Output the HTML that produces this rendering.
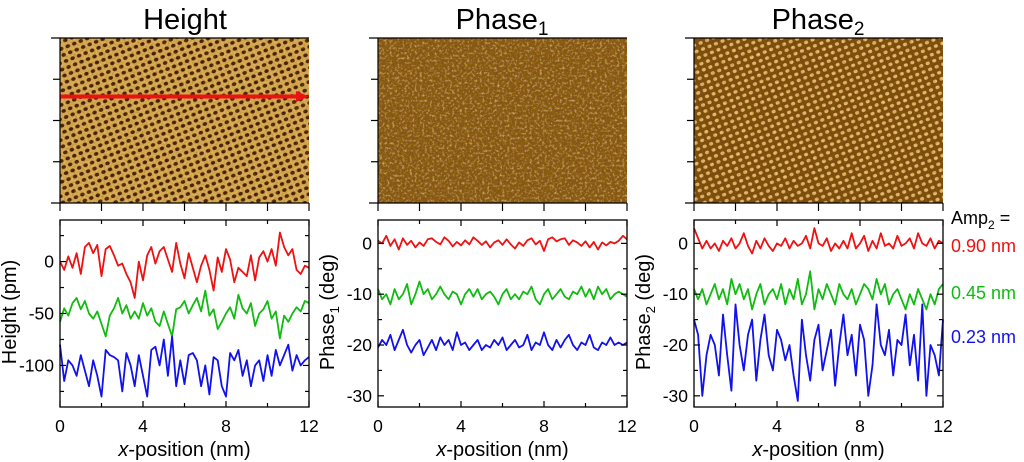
<!DOCTYPE html>
<html><head><meta charset="utf-8">
<style>
html,body{margin:0;padding:0;background:#fff;}
svg{display:block;font-family:"Liberation Sans",Arial,sans-serif;}
</style></head>
<body>
<svg id="fig" width="1024" height="462" viewBox="0 0 1024 462">
<defs>
 <filter id="noise" x="0" y="0" width="100%" height="100%">
  <feTurbulence type="fractalNoise" baseFrequency="0.5" numOctaves="2" seed="3"/>
  <feColorMatrix type="matrix" values="0 0 0 0 0.3  0 0 0 0 0.15  0 0 0 0 0.0  0 0 0 -1.8 1.2"/>
 </filter>
 <filter id="noise2" x="0" y="0" width="100%" height="100%">
  <feTurbulence type="fractalNoise" baseFrequency="0.4" numOctaves="2" seed="7"/>
  <feColorMatrix type="matrix" values="0 0 0 0 1  0 0 0 0 0.88  0 0 0 0 0.55  0 0 0 2.0 -1.0"/>
 </filter>
 <pattern id="patH" width="7" height="6.5" patternUnits="userSpaceOnUse" patternTransform="rotate(-22)">
  <rect width="7" height="6.5" fill="#e0b060"/>
  <ellipse cx="3.5" cy="3.25" rx="2.3" ry="1.9" fill="#3c1c02"/>
 </pattern>
 <pattern id="patP2" width="7" height="6.5" patternUnits="userSpaceOnUse" patternTransform="rotate(-22)">
  <rect width="7" height="6.5" fill="#7a4810"/>
  <ellipse cx="3.5" cy="3.25" rx="2.1" ry="1.7" fill="#e8c27a"/>
 </pattern>
</defs>

<g><text x="185" y="29" font-size="29" text-anchor="middle">Height</text></g>
<g><text x="502" y="29" font-size="29" text-anchor="middle">Phase<tspan font-size="19" dy="6">1</tspan></text></g>
<g><text x="818" y="29" font-size="29" text-anchor="middle">Phase<tspan font-size="19" dy="6">2</tspan></text></g>

<g>
 <rect x="60" y="38" width="249" height="165" fill="url(#patH)"/>
 <rect x="60" y="38" width="249" height="165" filter="url(#noise)" opacity="0.5"/>
</g>
<g>
 <rect x="378" y="38" width="249" height="165" fill="#84521a"/>
 <rect x="378" y="38" width="249" height="165" filter="url(#noise)" opacity="0.9"/>
 <rect x="378" y="38" width="249" height="165" filter="url(#noise2)" opacity="0.75"/>
</g>
<g>
 <rect x="694" y="38" width="249" height="165" fill="url(#patP2)"/>
 <rect x="694" y="38" width="249" height="165" filter="url(#noise)" opacity="0.5"/>
</g>
<g>
 <line x1="60" y1="96.5" x2="298" y2="96.5" stroke="#ee1111" stroke-width="4"/>
 <polygon points="296,91 309,96.5 296,102" fill="#ee1111"/>
</g>
<g id="imgticks"></g>

<g id="plots"></g>

<g>
 <text x="951" y="224" font-size="18" fill="#000">Amp<tspan font-size="12" dy="5">2</tspan><tspan dy="-5"> =</tspan></text>
 <text x="951" y="252" font-size="18" fill="#ee1111">0.90 nm</text>
 <text x="951" y="299" font-size="18" fill="#11bb11">0.45 nm</text>
 <text x="951" y="343" font-size="18" fill="#1111ee">0.23 nm</text>
</g>
</svg>
<script>
const xTicks = [0, 4, 8, 12];
const heightTicks = [0, -50, -100];
const phaseTicks = [0, -10, -20, -30];
const seriesColors = ["#ee1111", "#11bb11", "#1111ee"];

const heightRed = [0,-8,5,-6,8,-12,14,18,8,16,-14,12,15,6,-4,-2,-12,-20,-35,0,-18,6,14,-2,10,14,2,-10,18,-2,-16,8,-6,-20,-4,6,-8,-28,4,-10,12,2,-20,-6,-10,-14,6,-18,4,10,0,12,-4,28,14,6,12,-8,-12,-4,-6];
const heightGreen = [-58,-45,-52,-40,-35,-46,-38,-50,-55,-48,-60,-72,-52,-45,-35,-50,-42,-55,-48,-55,-40,-52,-45,-58,-62,-48,-60,-72,-46,-44,-38,-50,-42,-35,-48,-28,-52,-46,-65,-58,-50,-44,-55,-32,-45,-50,-40,-62,-50,-46,-38,-55,-48,-74,-52,-58,-50,-44,-48,-38,-40];
const heightBlue = [-80,-115,-95,-100,-110,-90,-105,-120,-95,-110,-130,-85,-90,-92,-95,-125,-88,-100,-120,-90,-110,-130,-85,-82,-100,-75,-110,-72,-120,-95,-118,-90,-88,-95,-120,-100,-128,-92,-95,-120,-130,-88,-95,-85,-110,-95,-120,-100,-95,-115,-90,-110,-85,-100,-90,-80,-105,-90,-100,-95,-92];

const phase1Red = [0.5,0,1.5,-0.5,0.8,-1.2,1,-0.3,0.5,-0.8,0.2,-0.5,0.8,1,0.3,-0.2,1.2,0.5,-0.6,0.3,-0.4,0.6,-0.2,1.2,0.5,-0.3,0.4,-0.8,0.2,0.6,-0.3,0.8,-0.2,-1,0.2,-0.5,0.6,1,-0.2,0.5,-1.5,0.8,1.2,0.4,0.8,1,-0.3,0.6,0.2,-0.5,0.4,-0.8,0.3,-1.2,0.2,-0.4,0.3,0,0.5,1.5,0.8];
const phase1Green = [-9,-11,-10,-12,-9,-11,-10,-8,-12,-10,-7.5,-10,-9,-11,-10,-8.5,-10,-11,-9.5,-10,-12,-10,-9,-10.5,-9,-11,-10,-9.5,-10.5,-12,-10,-9,-11,-10,-11,-9.5,-10,-8.5,-11,-12,-10,-9,-11,-10,-9,-10.5,-11,-9.5,-10,-8.5,-10.5,-9,-11,-8.5,-10,-9,-11,-10,-9.5,-10,-10.5];
const phase1Blue = [-20.5,-19,-20,-18,-21,-19,-17,-20,-21.5,-20,-19,-22,-20.5,-19,-21,-18.5,-20,-19,-21,-17.5,-20,-19.5,-21,-20,-19,-21,-20,-20.5,-19,-20,-18.5,-21,-20,-19,-20.5,-20,-18,-21,-19.5,-20,-17.5,-20,-21,-19,-20.5,-19,-18,-20,-21,-19.5,-20,-18,-20.5,-21,-19.5,-20,-18.5,-20,-19.5,-20,-19.5];

const phase2Red = [3,1,-1,0.5,-1,0,-1.5,0.5,-0.5,1,-1,0,2,-0.5,-2,0.5,-1,1,-0.5,-1.5,0,-0.5,1,-1,0.5,-0.5,0,1.5,-1,3,0,-0.5,1,-1.5,0,-1,0.5,-1,2,-1,0,1.5,-1.5,0.5,-1,2,-0.5,0,-1,1.5,-0.5,0,1,-1,2,0,-0.5,1,-1,0.5,0];
const phase2Green = [-9,-11,-9,-12,-10,-8,-11,-9,-12,-7,-10,-8,-11,-9,-13,-10,-8,-12,-10,-9,-11,-8,-12,-9,-11,-7,-12,-10,-5.5,-13,-9,-11,-8,-10,-12,-8,-10,-11,-9,-12,-10,-8,-9,-11,-7,-10,-8,-12,-10,-9,-11,-13,-10,-12,-9,-11,-13,-10,-12,-9,-8];
const phase2Blue = [-15,-18,-30,-22,-18,-20,-26,-14,-22,-29,-12,-20,-25,-18,-15,-27,-19,-14,-22,-25,-17,-19,-23,-20,-26,-31,-15,-22,-27,-19,-16,-25,-21,-17,-28,-20,-14,-22,-18,-26,-16,-19,-30,-24,-12,-20,-22,-17,-26,-19,-20,-14,-24,-18,-27,-12,-30,-20,-22,-26,-15];

const NS = "http://www.w3.org/2000/svg";
const plots = document.getElementById("plots");
function mk(tag, attrs, parent){const e=document.createElementNS(NS,tag);for(const k in attrs)e.setAttribute(k,attrs[k]);(parent||plots).appendChild(e);return e;}

function drawPanel(key, x0, x1, yMin, yMax, ticks, minorStep, seriesList, yTitle, sub){
  const y0 = 220, y1 = 407;
  const xs = v => x0 + (v/12)*(x1-x0);
  const ys = v => y1 - (v - yMin)/(yMax - yMin)*(y1-y0);
  const g = mk("g", {});
  
  
  seriesList.forEach((vals, si) => {
    const pts = vals.map((v,i) => xs(i*12/(vals.length-1)).toFixed(1) + "," + ys(v).toFixed(1)).join(" ");
    const pl = mk("polyline", {points: pts, fill: "none", stroke: seriesColors[si], "stroke-width": 1.8, "stroke-linejoin": "round"}, g);
    
    
  });
  const frame = mk("rect", {x: x0, y: y0, width: x1-x0, height: y1-y0, fill: "none", stroke: "#000", "stroke-width": 1.3}, g);
  
  
  for (let v = 0; v <= 12; v += 2) {
    const major = xTicks.includes(v);
    const L = major ? 6 : 4;
    mk("line", {x1: xs(v), x2: xs(v), y1: y1, y2: y1-L, stroke: "#000", "stroke-width": 1.2}, g);
    mk("line", {x1: xs(v), x2: xs(v), y1: y0, y2: y0+L, stroke: "#000", "stroke-width": 1.2}, g);
  }
  xTicks.forEach(v => {
    const t = mk("text", {x: xs(v), y: 432, "font-size": 17.5, "text-anchor": "middle"}, g);
    t.textContent = v;
    
    
  });
  for (let v = Math.ceil(yMin/minorStep)*minorStep; v <= yMax; v += minorStep) {
    const major = ticks.includes(v);
    const L = major ? 6 : 4;
    mk("line", {x1: x0, x2: x0+L, y1: ys(v), y2: ys(v), stroke: "#000", "stroke-width": 1.2}, g);
    mk("line", {x1: x1, x2: x1-L, y1: ys(v), y2: ys(v), stroke: "#000", "stroke-width": 1.2}, g);
  }
  ticks.forEach(v => {
    const t = mk("text", {x: x0-6, y: ys(v)+6, "font-size": 17.5, "text-anchor": "end"}, g);
    t.textContent = v;
    
    
  });
  const xt = mk("text", {x: (x0+x1)/2, y: 456, "font-size": 20, "text-anchor": "middle"}, g);
  xt.innerHTML = '<tspan font-style="italic">x</tspan>-position (nm)';
  
  
  const tx = x0 - 44, ty = 312;
  const yt = mk("text", {x: tx, y: ty, "font-size": 20, "text-anchor": "middle", transform: "rotate(-90 " + tx + " " + ty + ")"}, g);
  yt.innerHTML = sub ? yTitle + '<tspan font-size="13" dy="5">' + sub + '</tspan><tspan dy="-5"> (deg)</tspan>' : yTitle;
  
  
}

drawPanel("height", 60, 309, -140, 40, heightTicks, 25, [heightRed, heightGreen, heightBlue], "Height (pm)", null);
drawPanel("phase1", 378, 627, -32.2, 4.6, phaseTicks, 5, [phase1Red, phase1Green, phase1Blue], "Phase", "1");
drawPanel("phase2", 694, 943, -32.2, 4.6, phaseTicks, 5, [phase2Red, phase2Green, phase2Blue], "Phase", "2");

const it = document.getElementById("imgticks");
[[60,309],[378,627],[694,943]].forEach(([a,b]) => {
  mk("line", {x1: a-9, x2: b, y1: 38, y2: 38, stroke: "#000", "stroke-width": 1.2}, it);
  mk("line", {x1: a-9, x2: b, y1: 203, y2: 203, stroke: "#000", "stroke-width": 1.2}, it);
  mk("line", {x1: a, x2: a, y1: 38, y2: 203, stroke: "#000", "stroke-width": 1.2}, it);
  for (let k = 1; k < 4; k++) { const y = 38 + k*165/4; mk("line", {x1: a-7, x2: a, y1: y, y2: y, stroke: "#000", "stroke-width": 1.2}, it); }
  for (let k = 0; k <= 6; k++) { const x = a + k*(b-a)/6; mk("line", {x1: x, x2: x, y1: 203, y2: 211, stroke: "#000", "stroke-width": 1.2}, it); }
});
</script>
</body></html>
